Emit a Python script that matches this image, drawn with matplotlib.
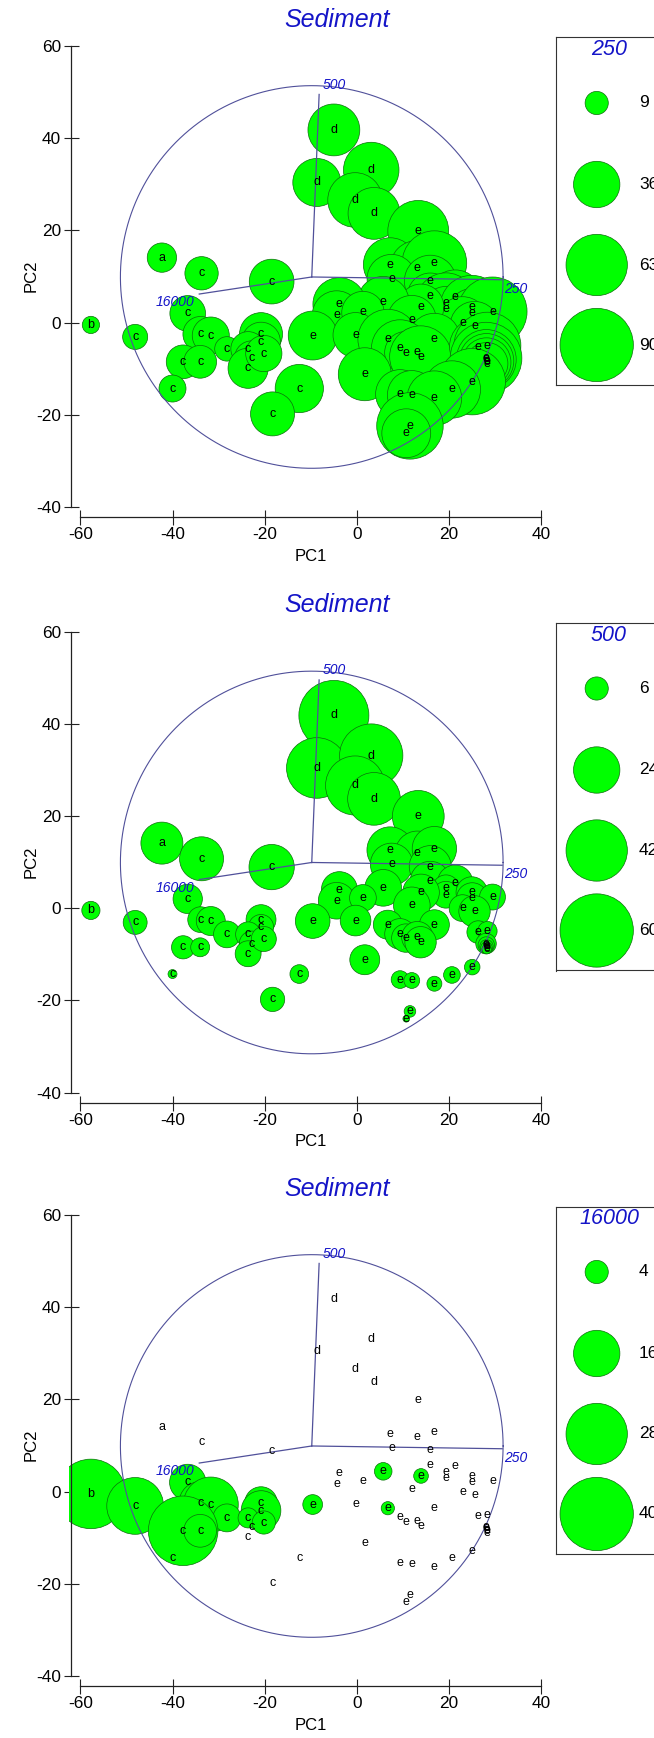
import numpy as np
import matplotlib
matplotlib.use('Agg')
import matplotlib.pyplot as plt

plt.rcParams['font.family'] = ['Liberation Sans', 'DejaVu Sans']
plt.rcParams['axes.unicode_minus'] = False

# samples: group letter, PC1, PC2
groups = ['a', 'b'] + ['c'] * 18 + ['d'] * 5 + ['e'] * 45
pc1 = [-42.3, -57.7,
       -33.7, -18.5, -48.1, -36.7, -33.9, -31.7, -28.2, -20.8, -20.8, -23.6,
       -22.8, -23.6, -20.2, -37.7, -34.0, -40.0, -12.5, -18.3,
       -5.0, -8.7, 3.1, -0.4, 3.7,
       13.3, 7.2, 13.1, 16.8, 7.5, 15.9, 15.9, 21.3, 19.3, 19.3,
       24.9, 25.0, 29.4, 22.9, 25.5, 13.9, 5.7, 11.9, -3.8, -4.4,
       1.3, -9.6, -0.3, 6.7, 16.8, 9.35, 10.6, 13.1, 13.8, 26.3,
       28.3, 28.0, 28.05, 28.1, 28.1, 28.15, 1.7, 25.0, 20.6, 9.35,
       11.9, 16.8, 11.5, 10.7]
pc2 = [14.1, -0.5,
       10.7, 8.9, -3.1, 2.0, -2.5, -2.8, -5.7, -2.5, -4.1, -5.7,
       -7.7, -9.9, -6.7, -8.5, -8.5, -14.3, -14.3, -19.8,
       41.8, 30.4, 33.1, 26.6, 23.7,
       19.9, 12.6, 11.9, 12.9, 9.5, 9.0, 5.8, 5.5, 4.3, 2.9,
       3.4, 2.1, 2.4, 0.0, -0.7, 3.4, 4.4, 0.6, 4.0, 1.6,
       2.2, -2.8, -2.7, -3.6, -3.6, -5.6, -6.5, -6.3, -7.4, -5.2,
       -5.0, -7.7, -8.0, -8.3, -8.6, -8.9, -11.2, -12.8, -14.5, -15.5,
       -15.7, -16.4, -22.4, -24.0]

# bubble values for the three size classes
sp250 = [14.4, 5,
         18.6, 33.5, 10.5, 21.3, 21, 23, 10, 31, 25, 20,
         20, 27, 22, 19, 18, 12.2, 39, 32.4,
         45, 38.6, 51.6, 50, 45,
         62, 48, 50, 70, 40, 45, 35, 50, 60, 35,
         67, 40, 80, 45, 40, 35, 45, 40, 47, 40,
         30, 40, 34, 60, 45, 55, 30, 40, 64, 55,
         75, 86, 60, 50, 40, 30, 47, 74, 55, 40,
         40, 50, 74, 40]
sp500 = [19.7, 3.7,
         21.6, 22.9, 6.4, 9.6, 7.4, 9.4, 8, 10, 7, 7,
         7, 7.5, 7, 6, 4, 0.9, 3.9, 6.6,
         54.7, 41, 44.7, 39, 31,
         30, 24, 22, 22, 20, 19.7, 18, 14, 8, 8,
         11, 11, 7.5, 8, 11, 15, 15, 15, 14.5, 15,
         8, 13.4, 10.5, 9.4, 10, 10.5, 9, 11, 11, 5.7,
         4.2, 4.7, 3, 2, 1.5, 1, 10, 2.7, 3.1, 3.5,
         2.8, 2.5, 1.5, 0.5]
sp16000 = [0, 36,
           0, 0, 24, 9.8, 14, 22.5, 5.8, 8, 11.7, 3,
           0, 0, 4, 36, 8, 0, 0, 0,
           0, 0, 0, 0, 0,
           0, 0, 0, 0, 0, 0, 0, 0, 0, 0,
           0, 0, 0, 0, 0, 1.6, 2.3, 0, 0, 0,
           0, 2.9, 0, 1.3, 0, 0, 0, 0, 0, 0,
           0, 0, 0, 0, 0, 0, 0, 0, 0, 0,
           0, 0, 0, 0]

leg250 = [9, 36, 63, 90]
leg500 = [6, 24, 42, 60]
leg16000 = [4, 16, 28, 40]

# biplot vectors
vec_names = ['500', '250', '16000']
vec_x = [-8.2, 31.5, -34.2]
vec_y = [49.5, 9.3, 6.2]
vec_lab_x = [-5.0, 34.5, -39.4]
vec_lab_y = [51.6, 7.4, 4.4]
origin_x, origin_y = -9.8, 9.9
circle_r = 41.5

W, H = 654, 1738
GREEN = '#00ff00'
EDGE = '#0b6e0b'
BLUE = '#1414c8'
LINE = '#50509a'
S_MAX = (0.72 * 73.3) ** 2


def px_rect(x0, y0, x1, y1):
    return [x0 / W, 1 - y1 / H, (x1 - x0) / W, (y1 - y0) / H]


def draw_panel(off, values, leg_vals, leg_title):
    vmax = leg_vals[-1]
    ax = fig.add_axes(px_rect(69, off + 38, 548, off + 519))
    ax.set_xlim(-62.45, 41.44)
    ax.set_ylim(-42.6, 61.74)

    x = np.array(pc1)
    y = np.array(pc2)
    v = np.array(values, dtype=float)
    keep = v > 0
    ax.scatter(x[keep], y[keep], s=S_MAX * v[keep] / vmax, c=GREEN,
               edgecolors=EDGE, linewidths=0.5, zorder=2)

    t = np.linspace(0, 2 * np.pi, 400)
    ax.plot(origin_x + circle_r * np.cos(t), origin_y + circle_r * np.sin(t),
            color=LINE, lw=0.8, zorder=3)
    for name, vx, vy, lx, ly in zip(vec_names, vec_x, vec_y, vec_lab_x, vec_lab_y):
        ax.plot([origin_x, vx], [origin_y, vy], color=LINE, lw=0.9, zorder=3)
        ax.text(lx, ly, name, color=BLUE, style='italic', fontsize=10,
                ha='center', va='center', zorder=4)

    for g, xi, yi in zip(groups, pc1, pc2):
        ax.text(xi, yi, g, fontsize=9, ha='center', va='center', zorder=5)

    for side in ['top', 'right']:
        ax.spines[side].set_visible(False)
    ax.spines['left'].set_position(('data', -62.0))
    ax.spines['left'].set_bounds(-40, 60)
    ax.spines['bottom'].set_position(('data', -42.2))
    ax.spines['bottom'].set_bounds(-60, 40)
    for side in ['left', 'bottom']:
        ax.spines[side].set_linewidth(0.9)
        ax.spines[side].set_color('#222222')
    ax.set_xticks([-60, -40, -20, 0, 20, 40])
    ax.set_yticks([-40, -20, 0, 20, 40, 60])
    ax.tick_params(direction='inout', length=10.8, width=0.8, color='#222222',
                   labelsize=12.4, pad=2)
    ax.patch.set_visible(False)

    fig.text(337 / W, 1 - (off + 20) / H, 'Sediment', ha='center', va='center',
             fontsize=18, style='italic', color=BLUE)
    fig.text(310.8 / W, 1 - (off + 556.5) / H, 'PC1', ha='center', va='center',
             fontsize=12)
    fig.text(31 / W, 1 - (off + 276) / H, 'PC2', ha='center', va='center',
             fontsize=12, rotation=90)

    # size legend box, running off the right edge
    lg = fig.add_axes(px_rect(556, off + 37.5, 720, off + 385))
    lg.set_xlim(556, 720)
    lg.set_ylim(off + 385, off + 37.5)
    lg.set_xticks([])
    lg.set_yticks([])
    for sp in lg.spines.values():
        sp.set_linewidth(0.8)
        sp.set_color('#333333')
    ys = [off + 103, off + 184.5, off + 265, off + 345]
    lg.scatter([596.7] * 4, ys, s=[S_MAX * lv / vmax for lv in leg_vals],
               c=GREEN, edgecolors=EDGE, linewidths=0.5, clip_on=False)
    for lv, yy in zip(leg_vals, ys):
        lg.text(639, yy, str(lv), fontsize=12.5, ha='left', va='center')
    lg.text(609, off + 50, leg_title, fontsize=15.5, style='italic',
            color=BLUE, ha='center', va='center')


fig = plt.figure(figsize=(W / 100, H / 100), dpi=100)
draw_panel(0, sp250, leg250, '250')
draw_panel(585.5, sp500, leg500, '500')
draw_panel(1169, sp16000, leg16000, '16000')
fig.savefig('out.png', dpi=100)
